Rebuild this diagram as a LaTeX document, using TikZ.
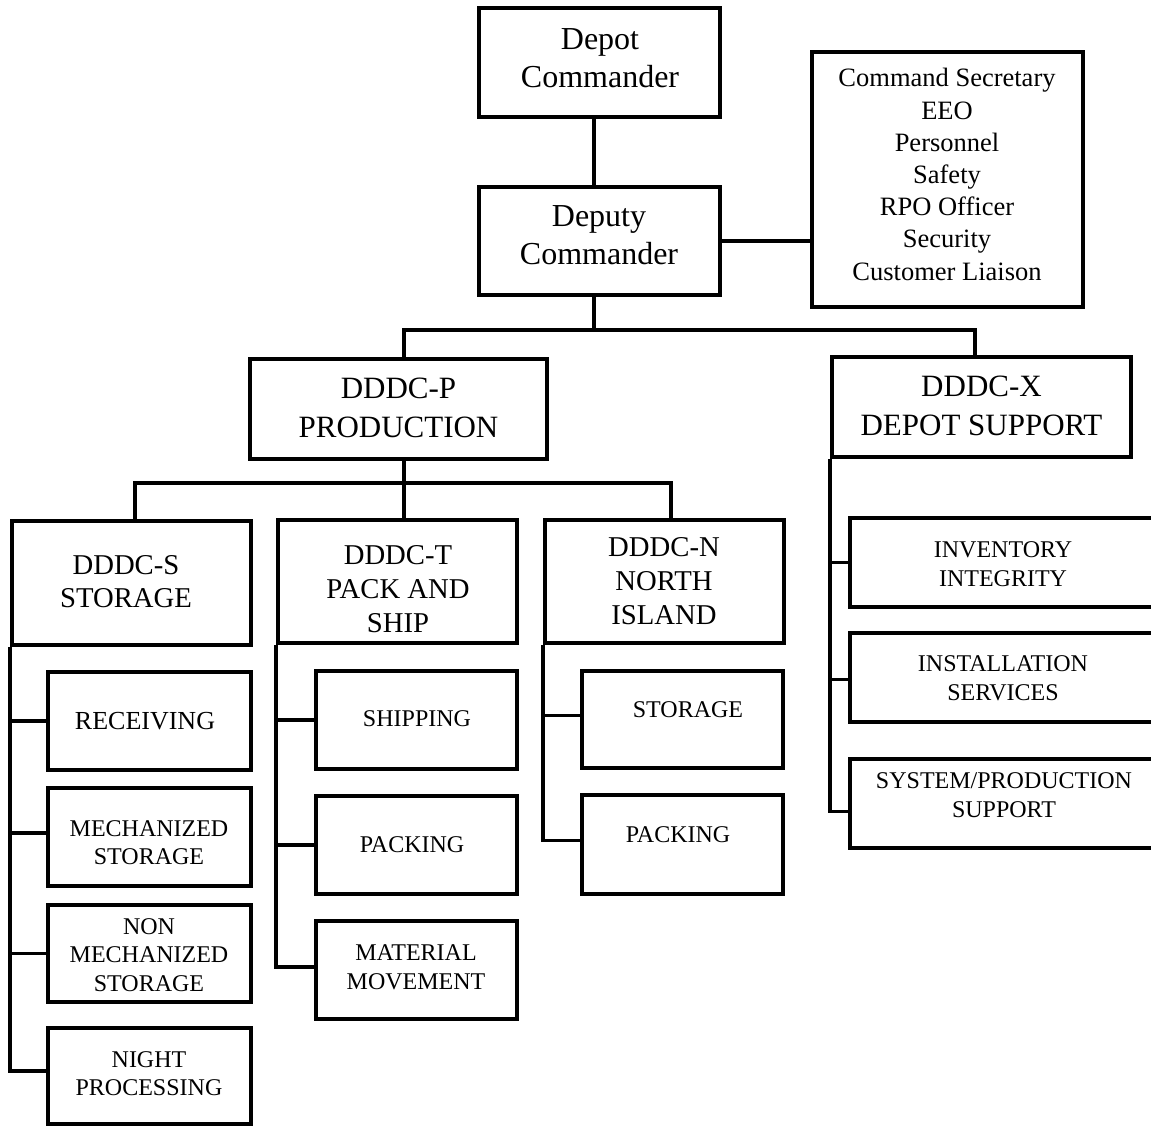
\documentclass[tikz,border=0pt]{standalone}
\usepackage{fontspec}
\setmainfont{Liberation Serif}
\begin{document}
\begin{tikzpicture}[x=1pt,y=-1pt,
  box/.style={draw, rectangle, line width=3.7pt, inner sep=0pt},
  conn/.style={line width=3.7pt, line join=miter},
  txt/.style={inner sep=0pt, align=center},
  fa/.style={txt, font=\fontsize{32}{38}\selectfont},
  fb/.style={txt, font=\fontsize{26.5}{32.2}\selectfont},
  fc/.style={txt, font=\fontsize{31}{39}\selectfont},
  fd/.style={txt, font=\fontsize{28.7}{33.7}\selectfont},
  fe/.style={txt, font=\fontsize{24}{28.5}\selectfont},
]
\useasboundingbox (0,0) rectangle (1151,1126);
\clip (0,0) rectangle (1151,1126);

% ---- boxes ----
\node[box, minimum width=241pt, minimum height=109pt] (depot)  at (599.5,62.5) {};
\node[box, minimum width=241pt, minimum height=108pt] (deputy) at (599.5,241) {};
\node[box, minimum width=271pt, minimum height=255pt] (staff)  at (947.5,179.5) {};
\node[box, minimum width=297pt, minimum height=100pt] (prod)   at (398.5,409) {};
\node[box, minimum width=299pt, minimum height=100pt] (supp)   at (981.5,407) {};
\node[box, minimum width=239pt, minimum height=124pt] (stor)   at (131.5,583) {};
\node[box, minimum width=239pt, minimum height=123pt] (pack)   at (397.5,581.5) {};
\node[box, minimum width=239pt, minimum height=123pt] (north)  at (664.5,581.5) {};
% storage subunits
\node[box, minimum width=203pt, minimum height=98pt] (recv)  at (149.5,721) {};
\node[box, minimum width=203pt, minimum height=98pt] (mech)  at (149.5,837) {};
\node[box, minimum width=203pt, minimum height=97pt] (nonm)  at (149.5,953.5) {};
\node[box, minimum width=203pt, minimum height=96pt] (night) at (149.5,1076) {};
% pack and ship subunits
\node[box, minimum width=201pt, minimum height=98pt] (ship)  at (416.5,720) {};
\node[box, minimum width=201pt, minimum height=98pt] (tpack) at (416.5,845) {};
\node[box, minimum width=201pt, minimum height=98pt] (mat)   at (416.5,970) {};
% north island subunits
\node[box, minimum width=201pt, minimum height=97pt] (nstor) at (682.5,719.5) {};
\node[box, minimum width=201pt, minimum height=99pt] (npack) at (682.5,844.5) {};
% depot support subunits (cut off at right edge)
\node[box, minimum width=310pt, minimum height=89pt] (inv)  at (1005,562.5) {};
\node[box, minimum width=310pt, minimum height=89pt] (inst) at (1005,677.5) {};
\node[box, minimum width=310pt, minimum height=89pt] (sys)  at (1005,803.5) {};

% ---- texts ----
\node[fa] (depott)  at (600,58.5)  {Depot\\Commander};
\node[fa] (deputyt) at (599,235.5) {Deputy\\Commander};
\node[fb] (stafft)  at (947,174.5) {Command Secretary\\EEO\\Personnel\\Safety\\RPO Officer\\Security\\Customer Liaison};
\node[fc] (prodt)   at (398.5,408) {DDDC-P\\PRODUCTION};
\node[fc] (suppt)   at (981.5,406) {DDDC-X\\DEPOT SUPPORT};
\node[fd] (stort)   at (126,581.5) {DDDC-S\\STORAGE};
\node[fd] (packt)   at (398,589)   {DDDC-T\\PACK AND\\SHIP};
\node[fd] (northt)  at (664,581)   {DDDC-N\\NORTH\\ISLAND};
\node[fe, font=\fontsize{26}{30}\selectfont] (recvt) at (145,721) {RECEIVING};
\node[fe] (mecht)   at (149,842.5) {MECHANIZED\\STORAGE};
\node[fe] (nonmt)   at (149,955)   {NON\\MECHANIZED\\STORAGE};
\node[fe] (nightt)  at (149,1073.5) {NIGHT\\PROCESSING};
\node[fe] (shipt)   at (417,719)   {SHIPPING};
\node[fe] (tpackt)  at (412,845)   {PACKING};
\node[fe] (matt)    at (416,967.5) {MATERIAL\\MOVEMENT};
\node[fe] (nstort)  at (688,710)   {STORAGE};
\node[fe] (npackt)  at (678,835)   {PACKING};
\node[fe] (invt)    at (1003,564)  {INVENTORY\\INTEGRITY};
\node[fe] (instt)   at (1003,678)  {INSTALLATION\\SERVICES};
\node[fe] (syst)    at (1004,795)  {SYSTEM/PRODUCTION\\SUPPORT};

% ---- connectors ----
\draw[conn] ([xshift=-5.5pt]depot.south) -- ([xshift=-5.5pt]deputy.north);
\draw[conn] (deputy.east) -- (deputy.east -| staff.west);

\coordinate (jP) at (404,330);
\coordinate (jX) at (975,330);
\draw[conn] ([xshift=-5.5pt]deputy.south) -- ([xshift=-5.5pt]deputy.south |- jP);
\draw[conn] (prod.north -| jP) -- (jP) -- (jX) -- (supp.north -| jX);

\coordinate (jS) at (135,483);
\coordinate (jN) at (671,483);
\draw[conn] (stor.north -| jS) -- (jS) -- (jN) -- (north.north -| jN);
\draw[conn] (prod.south -| jP) -- (pack.north -| jP);

% storage branch
\draw[conn] (stor.south west) |- ([yshift=5pt]night.west);
\draw[conn] (stor.south west |- recv.west) -- (recv.west);
\draw[conn] (stor.south west |- mech.west) ++(0,-4) -- ([yshift=4pt]mech.west);
\draw[conn] (stor.south west |- nonm.west) -- (nonm.west);

% pack and ship branch
\draw[conn] (pack.south west) |- ([yshift=3pt]mat.west);
\draw[conn] (pack.south west |- ship.west) -- (ship.west);
\draw[conn] (pack.south west |- tpack.west) -- (tpack.west);

% north island branch
\draw[conn] (north.south west) |- ([yshift=4pt]npack.west);
\draw[conn] ([yshift=4pt]north.south west |- nstor.west) -- ([yshift=4pt]nstor.west);

% depot support branch
\draw[conn] (supp.south west) |- ([yshift=-8pt]sys.west);
\draw[conn] (supp.south west |- inv.west) -- (inv.west);
\draw[conn] ([yshift=-2pt]supp.south west |- inst.west) -- ([yshift=-2pt]inst.west);
\end{tikzpicture}
\end{document}
